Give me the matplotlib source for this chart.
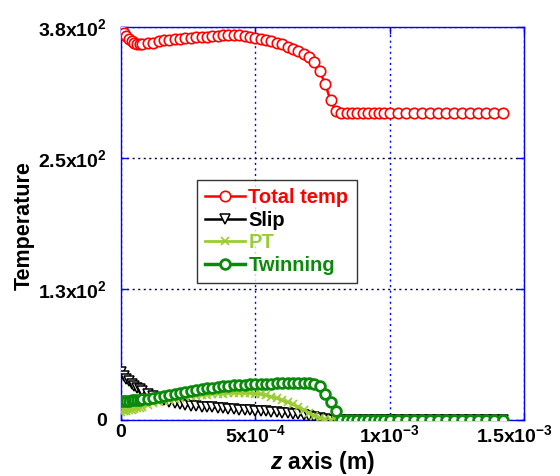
import matplotlib
matplotlib.use("Agg")
import matplotlib.pyplot as plt
import matplotlib.transforms as mtransforms
import numpy as np

plt.rcParams['font.family'] = ['Liberation Sans', 'DejaVu Sans']
plt.rcParams['font.weight'] = 'bold'
plt.rcParams['mathtext.fontset'] = 'custom'
plt.rcParams['mathtext.rm'] = 'Liberation Sans:bold'
plt.rcParams['mathtext.it'] = 'Liberation Sans:bold:italic'
plt.rcParams['mathtext.bf'] = 'Liberation Sans:bold'
plt.rcParams['mathtext.default'] = 'rm'

# positions along z, in units of 1e-5 m
z_units = [0, 1, 2, 3, 4, 5, 6, 7, 8,
           10, 12, 14, 16, 18, 20, 22, 24, 26, 28, 30, 32, 34, 36, 38, 40,
           42, 44, 46, 48, 50, 52, 54, 56, 58, 60, 62, 64, 66, 68, 70, 72,
           74, 76, 78, 80, 82, 84, 86, 88, 90, 92, 94, 96, 98, 100,
           103, 106, 109, 112, 115, 118, 121, 124, 127, 130, 133, 136, 139, 142]

total_temp = [378, 374, 371, 368, 366, 364.5, 364, 364, 364,
              364.5, 365, 366, 367, 367.5, 368, 368.5, 369, 369.5, 370, 370, 370.5, 371, 371.5, 372, 372.5,
              372.5, 372, 371.5, 370.5, 369.5, 368.5, 367.5, 366.5, 365, 363.5, 361, 359, 357, 354, 351, 346,
              337, 325, 309, 299, 297, 297, 297, 297, 297, 297, 297, 297, 297, 297,
              297, 297, 297, 297, 297, 297, 297, 297, 297, 297, 297, 297, 297, 297]

slip = [46, 43, 40, 37.5, 35, 33, 31, 29.5, 28,
        25.5, 23, 21, 19, 17.5, 16, 15, 14.5, 14, 13.5, 13, 12.5, 12.5, 12, 11.5, 11,
        10.5, 10, 10, 9.5, 9, 8.5, 8.5, 8, 7.5, 7, 6.5, 6, 5.5, 4.5, 3.5, 2.5,
        1.5, 0.5, 0, 0, 0, 0, 0, 0, 0, 0, 0, 0, 0, 0,
        0, 0, 0, 0, 0, 0, 0, 0, 0, 0, 0, 0, 0, 0]

pt = [8, 8.5, 9, 9.5, 10, 10.5, 11.5, 12, 13,
      14.5, 16, 17, 18.5, 19.5, 20.5, 21.5, 22.5, 23, 23.5, 24, 24.5, 25, 25.5, 25.5, 26,
      26, 26, 26, 26, 25.5, 25, 24, 22.5, 21, 19, 17, 15, 12.5, 10, 7, 4,
      2, 0.5, 0, 0, 0, 0, 0, 0, 0, 0, 0, 0, 0, 0,
      0, 0, 0, 0, 0, 0, 0, 0, 0, 0, 0, 0, 0, 0]

twinning = [18, 18, 18.5, 18.5, 19, 19, 19.5, 19.5, 20,
            20.5, 21.5, 22.5, 23.5, 24.5, 25.5, 26.5, 27.5, 28, 29, 29.5, 30.5, 31, 32, 32.5, 33,
            33.5, 34, 34, 34.5, 34.5, 35, 35, 35, 35.5, 35.5, 35.5, 35.5, 35.5, 35.5, 35.5, 35,
            33, 25, 17, 9, 0, 0, 0, 0, 0, 0, 0, 0, 0, 0,
            0, 0, 0, 0, 0, 0, 0, 0, 0, 0, 0, 0, 0, 0]

series_labels = ['Total temp', 'Slip', 'PT', 'Twinning']
series_colors = ['#ff0000', '#000000', '#9acd32', '#0a8a0a']

x_ticks = [0, 5e-4, 1e-3, 1.5e-3]
x_tick_labels = ['0', r'5x10$^{-4}$', r'1x10$^{-3}$', r'1.5x10$^{-3}$']
y_ticks = [0, 380 / 3, 760 / 3, 380]
y_tick_labels = ['0', r'1.3x10$^{2}$', r'2.5x10$^{2}$', r'3.8x10$^{2}$']

z = np.array(z_units) * 1e-5

fig = plt.figure(figsize=(5.6, 4.76), dpi=100)
ax = fig.add_axes([121 / 560, 56 / 476, 403 / 560, 393 / 476])

ax.plot(z, total_temp, color=series_colors[0], lw=1.8, marker='o', ms=7.5,
        mfc='white', mec=series_colors[0], mew=1.2, label=series_labels[0], zorder=3)
ax.plot(z, slip, color=series_colors[1], lw=1.8, marker='v', ms=7,
        mfc='white', mec=series_colors[1], mew=1.1, label=series_labels[1], zorder=3)
ax.plot(z, pt, color=series_colors[2], lw=2.0, marker='x', ms=5.5,
        mec=series_colors[2], mew=1.2, label=series_labels[2], zorder=3)
ax.plot(z, twinning, color=series_colors[3], lw=2.5, marker='o', ms=7,
        mfc='white', mec=series_colors[3], mew=2.0, label=series_labels[3], zorder=3)

ax.set_xlim(0, 1.5e-3)
ax.set_ylim(0, 380)
ax.set_xticks(x_ticks)
ax.set_xticklabels(x_tick_labels)
ax.set_yticks(y_ticks)
ax.set_yticklabels(y_tick_labels)
ax.tick_params(axis='both', direction='in', colors='#0000ff', length=5, width=1,
               labelcolor='black', labelsize=14, top=True, right=True)
ax.tick_params(axis='x', pad=3)
ax.tick_params(axis='y', pad=10)
for lab in ax.get_xticklabels() + ax.get_yticklabels():
    lab.set_fontweight('bold')
last = ax.get_xticklabels()[-1]
last.set_transform(last.get_transform() +
                   mtransforms.ScaledTranslation(-10 / 100, 0, fig.dpi_scale_trans))

for s in ax.spines.values():
    s.set_color('#0000ff')
    s.set_linewidth(1.0)

ax.grid(True, axis='x', color='#0000ff', linestyle=(0, (1.5, 2.5)), linewidth=1.0)
ax.grid(True, axis='y', color='#000033', linestyle=(0, (1.5, 2.5)), linewidth=1.0)
ax.set_axisbelow(True)

leg = ax.legend(loc='upper left', bbox_to_anchor=((197 - 121) / 403, (420 - 180) / 393),
                prop={'weight': 'bold', 'size': 14.5}, frameon=True, fancybox=False,
                edgecolor='black', handlelength=2.0, handletextpad=0.15,
                labelspacing=0.18, borderpad=0.4, borderaxespad=0)
leg.get_frame().set_linewidth(1.0)
for txt, c in zip(leg.get_texts(), series_colors):
    txt.set_color(c)

fig.text(323 / 560, 1 - 462 / 476, r'$\mathit{z}$ axis (m)', ha='center', va='center',
         fontsize=16.5, fontweight='bold')
fig.text(24 / 560, 1 - 226 / 476, 'Temperature', rotation=90, ha='center', va='center',
         fontsize=15.5, fontweight='bold')

fig.savefig('out.png', dpi=100)
